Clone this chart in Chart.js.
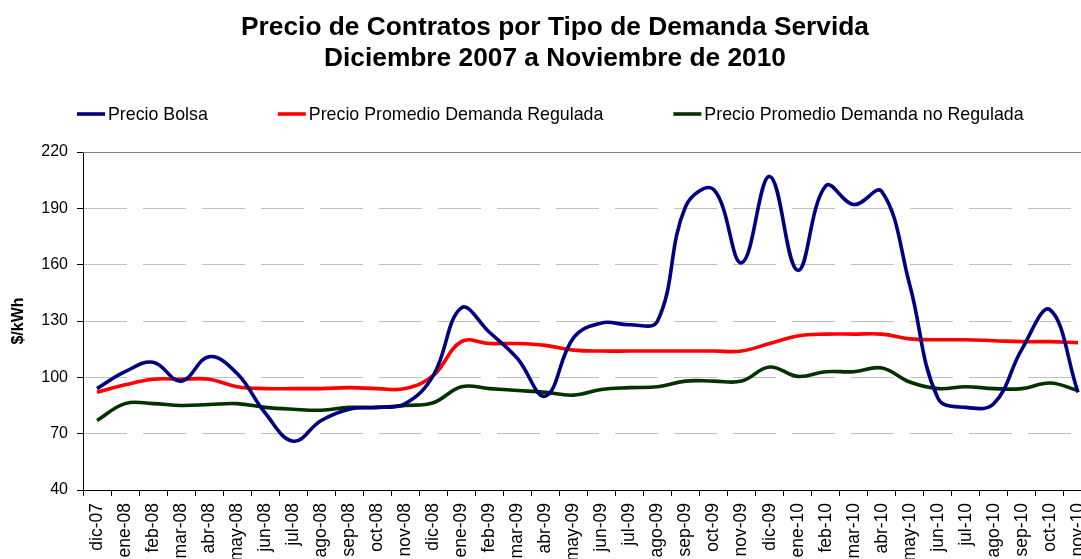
<!DOCTYPE html>
<html>
<head>
<meta charset="utf-8">
<script src="https://cdn.jsdelivr.net/npm/chart.js@4.4.1/dist/chart.umd.min.js"></script>
<style>
html, body { margin: 0; padding: 0; background: #fff; overflow: hidden; }
#wrap { width: 1081px; height: 559px; overflow: hidden; position: relative; background: #fff; }
canvas { display: block; }
</style>
</head>
<body>
<div id="wrap"><canvas id="c" width="1110" height="585" style="width:1110px;height:585px"></canvas></div>
<script>
const titleLines = ['Precio de Contratos por Tipo de Demanda Servida', 'Diciembre 2007 a Noviembre de 2010'];
const yAxisTitle = '$/kWh';
const categories = ['dic-07','ene-08','feb-08','mar-08','abr-08','may-08','jun-08','jul-08','ago-08','sep-08','oct-08','nov-08',
  'dic-08','ene-09','feb-09','mar-09','abr-09','may-09','jun-09','jul-09','ago-09','sep-09','oct-09','nov-09',
  'dic-09','ene-10','feb-10','mar-10','abr-10','may-10','jun-10','jul-10','ago-10','sep-10','oct-10','nov-10'];
const seriesNames = ['Precio Bolsa', 'Precio Promedio Demanda Regulada', 'Precio Promedio Demanda no Regulada'];
const precioBolsa = [94,103,108,98,111,102,81,66,77,83,84,86,
  101,137,124,110,90,121,129,128,130,191,200,161,
  207,157,202,192,199,149,89,84,86,115,136,92];
const precioRegulada = [92,96,99,99,99,95,94,94,94,94.5,94,94,
  101,119,118,118,117,114.5,114,114,114,114,114,114,
  118,122,123,123,123,120.5,120,120,119.5,119,119,118.5];
const precioNoRegulada = [77,86,86,85,85.5,86,84,83,82.5,84,84,85,
  86.5,95,94,93,92,90.5,93.5,94.5,95,98,98,98,
  105.5,100.5,103,103,105,97.5,94,95,94,94,97,93];
const yMin = 40, yMax = 220, yStep = 30;

const FONT = "'Liberation Sans', Arial, Helvetica, sans-serif";
Chart.defaults.font.family = FONT;
Chart.defaults.color = '#000';

const excelLegend = {
  id: 'excelLegend',
  afterDraw(chart, args, o) {
    const ctx = chart.ctx;
    ctx.save();
    ctx.font = o.size + 'px ' + FONT;
    ctx.textBaseline = 'middle';
    ctx.textAlign = 'left';
    let x = o.x;
    chart.data.datasets.forEach(ds => {
      ctx.strokeStyle = ds.borderColor;
      ctx.lineWidth = o.markerWidth;
      ctx.beginPath();
      ctx.moveTo(x, o.y);
      ctx.lineTo(x + o.markerLength, o.y);
      ctx.stroke();
      const tx = x + o.markerLength + o.textGap;
      ctx.fillStyle = '#000';
      ctx.fillText(ds.label, tx, o.y + 1);
      x = tx + ctx.measureText(ds.label).width + o.itemGap;
    });
    ctx.restore();
  }
};

const plotFrame = {
  id: 'plotFrame',
  afterLayout(chart) {
    if (chart.titleBlock) {
      chart.titleBlock.left = 0;
      chart.titleBlock.right = chart.width;
    }
  },
  beforeDatasetsDraw(chart) {
    const {ctx, chartArea} = chart;
    ctx.save();
    ctx.strokeStyle = '#808080';
    ctx.lineWidth = 1;
    ctx.beginPath();
    ctx.moveTo(chartArea.left, Math.round(chartArea.top) + 0.5);
    ctx.lineTo(chartArea.right, Math.round(chartArea.top) + 0.5);
    ctx.lineTo(chartArea.right, chartArea.bottom);
    ctx.stroke();
    ctx.restore();
  }
};

const lineStyle = { borderWidth: 3.6, pointRadius: 0, pointHoverRadius: 0, tension: 0.4, fill: false };

new Chart(document.getElementById('c'), {
  type: 'line',
  data: {
    labels: categories,
    datasets: [
      Object.assign({ label: seriesNames[0], data: precioBolsa, borderColor: '#000080', backgroundColor: '#000080' }, lineStyle),
      Object.assign({ label: seriesNames[1], data: precioRegulada, borderColor: '#ff0000', backgroundColor: '#ff0000' }, lineStyle),
      Object.assign({ label: seriesNames[2], data: precioNoRegulada, borderColor: '#003300', backgroundColor: '#003300' }, lineStyle)
    ]
  },
  options: {
    responsive: false,
    animation: false,
    devicePixelRatio: 1,
    layout: { padding: { top: 0, right: 18, bottom: 0, left: 0 } },
    plugins: {
      legend: { display: false },
      tooltip: { enabled: false },
      title: {
        display: true,
        text: titleLines,
        color: '#000',
        font: { family: FONT, size: 26.3, weight: 'bold', lineHeight: 31 / 26.3 },
        padding: { top: 12, bottom: 78 }
      },
      excelLegend: { x: 77, y: 114, size: 17.8, markerLength: 28, markerWidth: 3.6, textGap: 3, itemGap: 70 }
    },
    scales: {
      x: {
        type: 'category',
        offset: true,
        grid: { offset: true, drawOnChartArea: false, drawTicks: true, tickLength: 6, tickColor: '#000', color: '#000' },
        border: { display: true, color: '#000', width: 1 },
        ticks: { font: { size: 17.5 }, color: '#000', maxRotation: 90, minRotation: 90, autoSkip: false, padding: 7 },
        afterFit(scale) { scale.height = 95; }
      },
      y: {
        min: yMin,
        max: yMax,
        ticks: { stepSize: yStep, font: { size: 16 }, color: '#000', padding: 9 },
        grid: { color: '#c0c0c0', lineWidth: 1, tickLength: 6, tickColor: '#000', tickBorderDash: [], tickWidth: 1 },
        border: { display: true, color: '#000', width: 1, dash: [43, 16] },
        title: { display: true, text: yAxisTitle, color: '#000', font: { size: 16, weight: 'bold' }, padding: { top: 9, bottom: 0 } },
        afterFit(scale) { scale.width = 83; }
      }
    }
  },
  plugins: [plotFrame, excelLegend]
});
</script>
</body>
</html>
